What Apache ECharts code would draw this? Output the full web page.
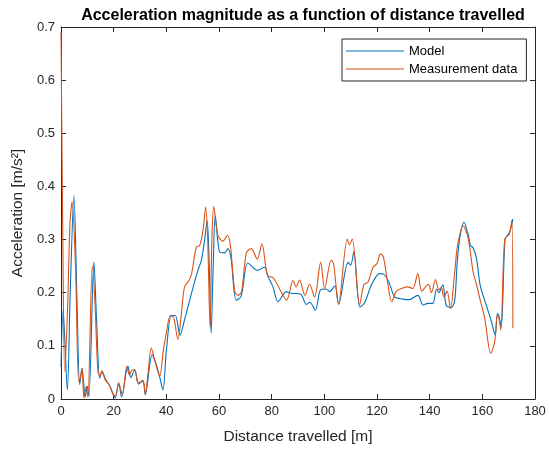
<!DOCTYPE html>
<html>
<head>
<meta charset="utf-8">
<script src="https://cdn.jsdelivr.net/npm/echarts@6/dist/echarts.min.js"></script>
<style>html,body{margin:0;padding:0;background:#fff}#c{width:549px;height:450px}</style>
</head>
<body>
<div id="c"></div>
<script>
var titleText = 'Acceleration magnitude as a function of distance travelled';
var xName = 'Distance travelled [m]';
var yName = 'Acceleration [m/s\u00B2]';
var seriesNames = ['Model', 'Measurement data'];
var xTicks = [0, 20, 40, 60, 80, 100, 120, 140, 160, 180];
var yTicks = [0, 0.1, 0.2, 0.3, 0.4, 0.5, 0.6, 0.7];

var modelX = [0, 0.8, 2.4, 3.5, 4.9, 6.0, 7.1, 8.0, 8.6, 9.2, 10.0, 10.6, 12.5, 13.5, 14.7, 15.6, 17.0, 18.3, 19.7, 20.6, 21.9, 23.0, 25.4, 26.5, 28.0, 29.5, 31.1, 32.0, 34.6, 36.2, 37.3, 38.7, 40.0, 41.9, 43.4, 45.2, 46.9, 49.5, 52.0, 53.3, 54.5, 55.5, 56.3, 57.0, 57.8, 58.6, 60.2, 62.1, 63.4, 64.6, 66.5, 68.4, 71.0, 74.5, 77.3, 78.5, 80.5, 82.4, 85.5, 87.4, 91.0, 93.2, 94.5, 96.6, 98.5, 100.7, 102.0, 104.0, 105.4, 109.0, 110.0, 111.2, 113.5, 115.3, 118.0, 121.0, 122.5, 124.7, 126.7, 129.8, 132.4, 134.5, 135.6, 137.5, 139.4, 141.2, 142.6, 143.5, 145.0, 146.3, 148.2, 149.5, 150.5, 151.5, 153.0, 154.6, 155.5, 156.5, 157.8, 159.2, 161.6, 163.5, 164.9, 165.7, 166.2, 167.2, 168.6, 169.8, 170.5, 171.6];
var modelY = [0.06, 0.167, 0.017, 0.2, 0.383, 0.2, 0.027, 0.058, 0.03, 0.005, 0.024, 0.005, 0.258, 0.15, 0.039, 0.052, 0.036, 0.027, 0.011, 0.002, 0.03, 0.004, 0.062, 0.04, 0.055, 0.028, 0.034, 0.008, 0.083, 0.064, 0.045, 0.017, 0.09, 0.157, 0.157, 0.12, 0.149, 0.198, 0.242, 0.261, 0.298, 0.336, 0.25, 0.124, 0.25, 0.345, 0.277, 0.275, 0.283, 0.264, 0.186, 0.193, 0.256, 0.242, 0.248, 0.232, 0.211, 0.183, 0.202, 0.199, 0.197, 0.178, 0.182, 0.167, 0.205, 0.207, 0.202, 0.213, 0.178, 0.257, 0.252, 0.277, 0.173, 0.181, 0.216, 0.236, 0.235, 0.218, 0.192, 0.188, 0.187, 0.193, 0.195, 0.177, 0.18, 0.18, 0.207, 0.2, 0.215, 0.176, 0.172, 0.185, 0.26, 0.305, 0.333, 0.31, 0.289, 0.284, 0.264, 0.214, 0.175, 0.145, 0.12, 0.161, 0.158, 0.136, 0.3, 0.31, 0.315, 0.339];

var measX = [0, 0.7, 1.4, 2.5, 3.4, 4.2, 5.5, 6.7, 7.3, 8.0, 8.7, 9.6, 10.2, 11.9, 12.9, 14.0, 14.8, 15.5, 16.8, 18.3, 19.8, 20.7, 21.9, 23.3, 25.0, 26.0, 27.0, 28.1, 29.3, 31.1, 32.0, 33.0, 34.3, 35.5, 37.5, 38.8, 40.2, 41.5, 42.8, 44.4, 45.5, 46.9, 48.5, 49.6, 51.4, 52.7, 54.0, 54.9, 55.7, 56.6, 57.3, 58.0, 59.6, 61.5, 63.2, 64.3, 66.0, 67.3, 68.6, 70.4, 72.3, 74.5, 76.3, 78.4, 80.6, 82.3, 85.7, 88.1, 89.3, 90.6, 92.6, 94.4, 96.3, 98.6, 100.1, 102.6, 103.5, 105.4, 108.7, 109.5, 110.6, 113.4, 115.0, 116.6, 118.4, 120.0, 121.3, 122.4, 124.1, 125.6, 127.3, 129.9, 131.5, 133.6, 135.5, 137.0, 139.5, 140.7, 142.2, 143.5, 144.4, 145.4, 146.6, 147.9, 149.4, 150.6, 152.7, 154.6, 156.5, 157.8, 159.0, 160.9, 163.2, 164.7, 165.7, 166.3, 167.0, 168.5, 170.2, 171.2, 171.6];
var measY = [0.69, 0.3, 0.052, 0.17, 0.33, 0.371, 0.25, 0.033, 0.04, 0.058, 0.002, 0.024, 0.004, 0.25, 0.18, 0.052, 0.043, 0.053, 0.036, 0.027, 0.008, 0.006, 0.03, 0.008, 0.061, 0.045, 0.055, 0.054, 0.03, 0.035, 0.01, 0.046, 0.096, 0.075, 0.043, 0.089, 0.13, 0.157, 0.153, 0.112, 0.15, 0.211, 0.222, 0.236, 0.286, 0.289, 0.32, 0.361, 0.3, 0.135, 0.3, 0.362, 0.308, 0.297, 0.308, 0.29, 0.202, 0.195, 0.203, 0.275, 0.283, 0.263, 0.292, 0.233, 0.228, 0.214, 0.186, 0.223, 0.211, 0.224, 0.195, 0.216, 0.192, 0.257, 0.208, 0.261, 0.255, 0.18, 0.301, 0.29, 0.301, 0.177, 0.215, 0.22, 0.247, 0.255, 0.273, 0.268, 0.217, 0.183, 0.203, 0.209, 0.211, 0.208, 0.236, 0.203, 0.216, 0.2, 0.225, 0.205, 0.21, 0.192, 0.203, 0.17, 0.233, 0.289, 0.326, 0.303, 0.239, 0.215, 0.19, 0.152, 0.086, 0.108, 0.158, 0.152, 0.13, 0.301, 0.31, 0.336, 0.133];

function pairs(xs, ys) { return xs.map(function (x, i) { return [x, ys[i]]; }); }

var axisColor = '#262626';
var font = "'Liberation Sans', Arial, Helvetica, sans-serif";
var gridBox = { left: 61, right: 14, top: 27, bottom: 49 };

function xAxisDef(pos, showLabels) {
  return {
    type: 'value', position: pos, min: xTicks[0], max: xTicks[xTicks.length - 1],
    interval: xTicks[1] - xTicks[0],
    name: showLabels ? xName : '', nameLocation: 'middle', nameGap: 30,
    nameTextStyle: { color: axisColor, fontSize: 15.5, fontFamily: font },
    axisLine: { show: true, onZero: false, lineStyle: { color: axisColor, width: 1 } },
    axisTick: { show: true, inside: true, length: 5, lineStyle: { color: axisColor } },
    axisLabel: { show: showLabels, color: axisColor, fontSize: 13, fontFamily: font, margin: 6 },
    splitLine: { show: false }
  };
}
function yAxisDef(pos, showLabels) {
  return {
    type: 'value', position: pos, min: yTicks[0], max: yTicks[yTicks.length - 1],
    interval: 0.1,
    name: showLabels ? yName : '', nameLocation: 'middle', nameGap: 32,
    nameTextStyle: { color: axisColor, fontSize: 15.5, fontFamily: font, verticalAlign: 'middle' },
    axisLine: { show: true, onZero: false, lineStyle: { color: axisColor, width: 1 } },
    axisTick: { show: true, inside: true, length: 5, lineStyle: { color: axisColor } },
    axisLabel: { show: showLabels, color: axisColor, fontSize: 13, fontFamily: font, margin: 6,
      formatter: function (v) { return String(Math.round(v * 10) / 10); } },
    splitLine: { show: false }
  };
}

var chart = echarts.init(document.getElementById('c'), null, { renderer: 'canvas' });
chart.setOption({
  animation: false,
  backgroundColor: '#fff',
  title: {
    text: titleText, left: 298, top: 3, textAlign: 'center',
    textStyle: { fontSize: 16, fontWeight: 'bold', color: '#000', fontFamily: font }
  },
  grid: gridBox,
  legend: {
    orient: 'vertical', left: 342, top: 39,
    data: seriesNames,
    icon: 'rect', itemWidth: 58, itemHeight: 1.2, itemGap: 4, itemTextGap: 4,
    padding: [5, 9, 5, 4],
    borderColor: axisColor, borderWidth: 1, borderRadius: 0, backgroundColor: '#fff',
    textStyle: { color: '#000', fontSize: 13, fontFamily: font, lineHeight: 14 }
  },
  xAxis: [xAxisDef('bottom', true), xAxisDef('top', false)],
  yAxis: [yAxisDef('left', true), yAxisDef('right', false)],
  series: [
    { name: seriesNames[0], type: 'line', data: pairs(modelX, modelY), showSymbol: false, smooth: 0.3,
      lineStyle: { color: '#0072BD', width: 1.1 }, itemStyle: { color: '#0072BD' } },
    { name: seriesNames[1], type: 'line', data: pairs(measX, measY), showSymbol: false, smooth: 0.3,
      lineStyle: { color: '#D95319', width: 1.1 }, itemStyle: { color: '#D95319' } }
  ]
});
</script>
</body>
</html>
